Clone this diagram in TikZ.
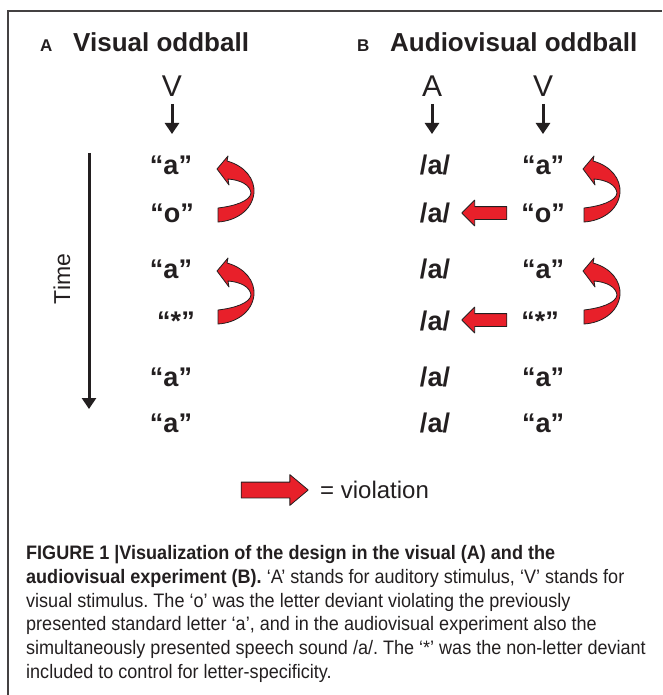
\documentclass[tikz,border=0pt]{standalone}
\usepackage{fontspec}
\setmainfont{Liberation Sans}
\newfontfamily\capfont[FakeStretch=0.925]{Liberation Sans}
\usetikzlibrary{arrows.meta,shapes.arrows}
\definecolor{ink}{HTML}{231F20}
\definecolor{vred}{HTML}{E8202A}
\tikzset{
  lbl/.style={anchor=base, inner sep=0pt, outer sep=0pt, text=ink},
  title/.style={anchor=base west, inner sep=0pt, text=ink, font=\fontsize{26}{26}\selectfont\bfseries},
  panel/.style={anchor=base west, inner sep=0pt, text=ink, font=\fontsize{17}{17}\selectfont\bfseries},
  stim/.style={lbl, font=\fontsize{30}{30}\selectfont},
  item/.style={lbl, font=\fontsize{27}{27}\selectfont\bfseries},
  downarrow/.style={draw=ink, line width=3pt, -{Triangle[width=14pt,length=11pt]}},
  redshape/.style={fill=vred, draw=ink, line width=0.8pt, line join=round},
  redarrow/.style={single arrow, redshape, inner xsep=0pt, inner ysep=6pt, single arrow head extend=6.5pt,
     minimum height=45pt, shape border rotate=180},
  capline/.style={anchor=base west, inner sep=0pt, text=ink, font=\capfont\fontsize{19.5}{19.5}\selectfont\frenchspacing},
  curvarrow/.pic={\path[redshape] (0,0) -- (11,-13) -- (10,-8)
      .. controls (28,-3) and (38,10) .. (37,24)
      .. controls (35,42) and (18,52) .. (1,53) -- (1,39)
      .. controls (18,37) and (33,32) .. (34,24)
      .. controls (33,16) and (24,11) .. (11,10) -- (12,16) -- cycle;}
}
\begin{document}
\begin{tikzpicture}[x=1pt,y=-1pt]
\useasboundingbox (0,0) rectangle (662,695);
% frame
\draw[ink!85, line width=1.3pt] (8,695) -- (8,11) -- (662,11);
% titles
\node[panel] (pA) at (40,52) {A};
\node[title] (tA) at (73,52) {Visual oddball};
\node[panel] (pB) at (357,52) {B};
\node[title] (tB) at (390,52) {Audiovisual oddball};
% stimulus letters
\node[stim] (s1) at (172,97) {V};
\node[stim] (s2) at (432,97) {A};
\node[stim] (s3) at (543,97) {V};
\coordinate (s1a) at (172,104); \coordinate (s1b) at (172,134);
\coordinate (s2a) at (432,104); \coordinate (s2b) at (432,134);
\coordinate (s3a) at (543,104); \coordinate (s3b) at (543,134);
\draw[downarrow] (s1a) -- (s1b);
\draw[downarrow] (s2a) -- (s2b);
\draw[downarrow] (s3a) -- (s3b);
% time axis
\coordinate (t0) at (89,153); \coordinate (t1) at (89,409);
\draw[downarrow] (t0) -- (t1);
\node[inner sep=0pt, text=ink, rotate=90, font=\fontsize{23}{23}\selectfont] (time) at (62,279) {Time};
% column A
\node[item] (a1) at (171,175) {“a”};
\node[item] (a2) at (172,222) {“o”};
\node[item] (a3) at (171,278) {“a”};
\node[item] (a4) at (176,330) {“*”};
\node[item] (a5) at (171,386) {“a”};
\node[item] (a6) at (171,432) {“a”};
% column B audio
\node[item] (b1) at (435,175) {/a/};
\node[item] (b2) at (435,222) {/a/};
\node[item] (b3) at (435,278) {/a/};
\node[item] (b4) at (435,330) {/a/};
\node[item] (b5) at (435,386) {/a/};
\node[item] (b6) at (435,432) {/a/};
% column B visual
\node[item] (c1) at (543,175) {“a”};
\node[item] (c2) at (543,222) {“o”};
\node[item] (c3) at (543,278) {“a”};
\node[item] (c4) at (540,330) {“*”};
\node[item] (c5) at (543,386) {“a”};
\node[item] (c6) at (543,432) {“a”};
% curved violation arrows
\pic at (217,169) {curvarrow};
\pic at (217,271) {curvarrow};
\pic at (583,169) {curvarrow};
\pic at (583,271) {curvarrow};
% straight violation arrows
\node[redarrow] (v1) at (487.5,213) {};
\node[redarrow] (v2) at (487.5,320) {};
% legend
\node[single arrow, redshape, inner xsep=0pt, inner ysep=7.5pt, single arrow head extend=7.5pt,
  single arrow tip angle=80, minimum height=67pt] (leg) at (270,490) {};
\node[anchor=west, inner sep=0pt, text=ink, font=\fontsize{24}{24}\selectfont] (legt) at (320,490) {= violation};
% caption
\node[capline] (l1) at (26,559) {\bfseries FIGURE 1 |Visualization of the design in the visual (A) and the};
\node[capline] (l2) at (26,583) {\textbf{audiovisual experiment (B).} ‘A’ stands for auditory stimulus, ‘V’ stands for};
\node[capline] (l3) at (26,607) {visual stimulus. The ‘o’ was the letter deviant violating the previously};
\node[capline] (l4) at (26,630) {presented standard letter ‘a’, and in the audiovisual experiment also the};
\node[capline] (l5) at (26,654) {simultaneously presented speech sound /a/. The ‘*’ was the non-letter deviant};
\node[capline] (l6) at (26,678) {included to control for letter-specificity.};
\end{tikzpicture}
\end{document}
